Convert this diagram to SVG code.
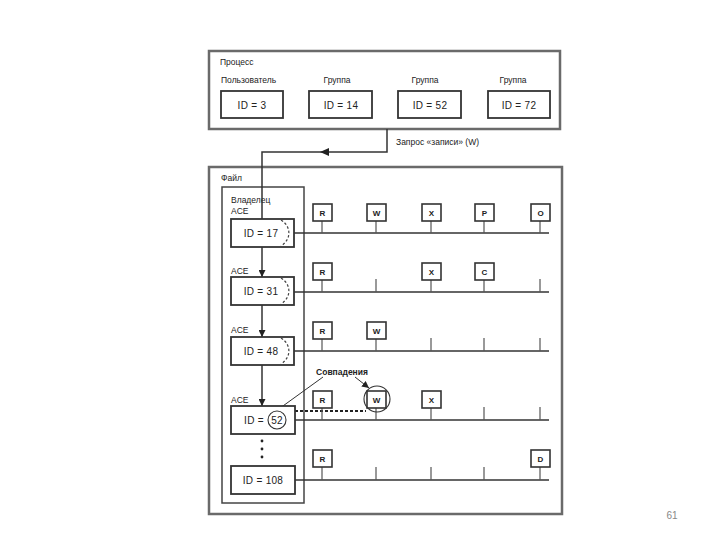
<svg xmlns="http://www.w3.org/2000/svg" width="720" height="540" viewBox="0 0 720 540">
<defs>
<style>
text{font-family:"Liberation Sans",Arial,sans-serif;fill:#222;}
.lbl{font-size:8.5px;}
.id{font-size:10px;text-anchor:middle;letter-spacing:0.3px;}
.frame{fill:none;stroke:#6a6a6a;stroke-width:2.5;}
.panel{fill:none;stroke:#444;stroke-width:1.5;}
.box{fill:#fff;stroke:#333;stroke-width:1.8;}
.lbox{fill:#fff;stroke:#333;stroke-width:1.6;}
.ln{stroke:#333;stroke-width:1.5;fill:none;}
.tick{stroke:#555;stroke-width:1.2;}
.dash{stroke:#444;stroke-width:1.2;fill:none;stroke-dasharray:2.5,2;}
.mdash{stroke:#222;stroke-width:1.8;fill:none;stroke-dasharray:3,2;}
.let{font-size:8px;text-anchor:middle;font-weight:bold;}
</style>
<marker id="ah" viewBox="0 0 10 10" refX="10" refY="5" markerWidth="7" markerHeight="7" orient="auto" markerUnits="userSpaceOnUse">
<path d="M0,0 L10,5 L0,10 z" fill="#222"/>
</marker>
</defs>
<rect width="720" height="540" fill="#fff"/>

<g id="process">
<rect class="frame" x="209" y="51" width="351" height="78"/>
<text class="lbl" x="220" y="65">Процесс</text>
<text class="lbl" x="221" y="83">Пользователь</text>
<text class="lbl" x="337" y="83" text-anchor="middle">Группа</text>
<text class="lbl" x="425" y="83" text-anchor="middle">Группа</text>
<text class="lbl" x="513" y="83" text-anchor="middle">Группа</text>
<g id="p-id3"><rect class="box" x="221" y="91" width="62" height="27"/><text class="id" x="252" y="108.5">ID = 3</text></g>
<g id="p-id14"><rect class="box" x="309" y="91" width="63" height="27"/><text class="id" x="341" y="108.5">ID = 14</text></g>
<g id="p-id52"><rect class="box" x="398" y="91" width="63" height="27"/><text class="id" x="430" y="108.5">ID = 52</text></g>
<g id="p-id72"><rect class="box" x="488" y="91" width="62" height="27"/><text class="id" x="519" y="108.5">ID = 72</text></g>
</g>

<g id="file">
<rect class="frame" x="209" y="167" width="353" height="347"/>
<text class="lbl" x="221" y="181">Файл</text>
<rect class="panel" x="222" y="187" width="82" height="316"/>
<text class="lbl" x="231" y="203">Владелец</text>
<text class="lbl" x="231" y="214">ACE</text>
<text class="lbl" x="231" y="274">ACE</text>
<text class="lbl" x="231" y="333">ACE</text>
<text class="lbl" x="231" y="403">ACE</text>
</g>

<g id="connectors">
<polyline class="ln" points="387,129 387,152 262,152 262,219"/>
<path d="M320,152 L329,148 L329,156 z" fill="#222"/>
<text class="lbl" x="396" y="145">Запрос «записи» (W)</text>
<line class="ln" x1="262" y1="247" x2="262" y2="277" marker-end="url(#ah)"/>
<line class="ln" x1="262" y1="305" x2="262" y2="337" marker-end="url(#ah)"/>
<line class="ln" x1="262" y1="365" x2="262" y2="406" marker-end="url(#ah)"/>
<circle cx="262" cy="441" r="1.4" fill="#222"/>
<circle cx="262" cy="449" r="1.4" fill="#222"/>
<circle cx="262" cy="457" r="1.4" fill="#222"/>
<line class="ln" x1="294" y1="233" x2="549" y2="233"/>
<line class="ln" x1="294" y1="292" x2="549" y2="292"/>
<line class="ln" x1="294" y1="351" x2="549" y2="351"/>
<line class="ln" x1="295" y1="420" x2="549" y2="420"/>
<line class="ln" x1="295" y1="480" x2="549" y2="480"/>
<line class="mdash" x1="270" y1="411" x2="366" y2="411"/>
<line x1="323" y1="377" x2="276" y2="411" stroke="#333" stroke-width="1"/>
<line x1="355" y1="377" x2="369" y2="388" stroke="#333" stroke-width="1" marker-end="url(#ah)"/>
<text x="342" y="375" font-size="8.5" font-weight="bold" text-anchor="middle">Совпадения</text>
</g>

<g id="ace17"><rect class="box" x="231" y="219" width="63" height="28"/><text class="id" x="261" y="236.5">ID = 17</text><path class="dash" d="M281,220 C291,226 292,239 281,246"/></g>
<g id="ace31"><rect class="box" x="231" y="277" width="63" height="28"/><text class="id" x="261" y="294.5">ID = 31</text><path class="dash" d="M281,278 C291,284 292,297 281,304"/></g>
<g id="ace48"><rect class="box" x="231" y="337" width="63" height="28"/><text class="id" x="261" y="354.5">ID = 48</text><path class="dash" d="M281,338 C291,344 292,357 281,364"/></g>
<g id="ace52"><rect class="box" x="231" y="406" width="64" height="28"/><text class="id" x="254" y="423.5">ID =</text><text class="id" x="277" y="423.5">52</text><circle cx="277" cy="420" r="9" fill="none" stroke="#333" stroke-width="1.1"/></g>
<g id="ace108"><rect class="box" x="231" y="466" width="64" height="28"/><text class="id" x="263" y="483.5">ID = 108</text></g>

<g id="row1">
<line class="tick" x1="322" y1="221" x2="322" y2="233"/><rect class="lbox" x="313" y="204" width="19" height="17"/><text class="let" x="322.5" y="216">R</text>
<line class="tick" x1="376" y1="221" x2="376" y2="233"/><rect class="lbox" x="367" y="204" width="19" height="17"/><text class="let" x="376.5" y="216">W</text>
<line class="tick" x1="431" y1="221" x2="431" y2="233"/><rect class="lbox" x="422" y="204" width="19" height="17"/><text class="let" x="431.5" y="216">X</text>
<line class="tick" x1="484" y1="221" x2="484" y2="233"/><rect class="lbox" x="475" y="204" width="19" height="17"/><text class="let" x="484.5" y="216">P</text>
<line class="tick" x1="540" y1="221" x2="540" y2="233"/><rect class="lbox" x="531" y="204" width="19" height="17"/><text class="let" x="540.5" y="216">O</text>
</g>
<g id="row2">
<line class="tick" x1="322" y1="280" x2="322" y2="292"/><rect class="lbox" x="313" y="263" width="19" height="17"/><text class="let" x="322.5" y="275">R</text>
<line class="tick" x1="376" y1="279" x2="376" y2="292"/>
<line class="tick" x1="431" y1="280" x2="431" y2="292"/><rect class="lbox" x="422" y="263" width="19" height="17"/><text class="let" x="431.5" y="275">X</text>
<line class="tick" x1="484" y1="280" x2="484" y2="292"/><rect class="lbox" x="475" y="263" width="19" height="17"/><text class="let" x="484.5" y="275">C</text>
<line class="tick" x1="540" y1="279" x2="540" y2="292"/>
</g>
<g id="row3">
<line class="tick" x1="322" y1="339" x2="322" y2="351"/><rect class="lbox" x="313" y="322" width="19" height="17"/><text class="let" x="322.5" y="334">R</text>
<line class="tick" x1="376" y1="339" x2="376" y2="351"/><rect class="lbox" x="367" y="322" width="19" height="17"/><text class="let" x="376.5" y="334">W</text>
<line class="tick" x1="431" y1="338" x2="431" y2="351"/>
<line class="tick" x1="484" y1="338" x2="484" y2="351"/>
<line class="tick" x1="540" y1="338" x2="540" y2="351"/>
</g>
<g id="row4">
<line class="tick" x1="322" y1="408" x2="322" y2="420"/><rect class="lbox" x="313" y="391" width="19" height="17"/><text class="let" x="322.5" y="403">R</text>
<line class="tick" x1="376" y1="408" x2="376" y2="420"/><rect class="lbox" x="367" y="391" width="19" height="17"/><text class="let" x="376.5" y="403">W</text>
<circle cx="377" cy="399" r="13" fill="none" stroke="#333" stroke-width="1.1"/>
<line class="tick" x1="431" y1="408" x2="431" y2="420"/><rect class="lbox" x="422" y="391" width="19" height="17"/><text class="let" x="431.5" y="403">X</text>
<line class="tick" x1="484" y1="407" x2="484" y2="420"/>
<line class="tick" x1="540" y1="407" x2="540" y2="420"/>
</g>
<g id="row5">
<line class="tick" x1="322" y1="467" x2="322" y2="480"/><rect class="lbox" x="313" y="450" width="19" height="17"/><text class="let" x="322.5" y="462">R</text>
<line class="tick" x1="376" y1="467" x2="376" y2="480"/>
<line class="tick" x1="431" y1="467" x2="431" y2="480"/>
<line class="tick" x1="484" y1="467" x2="484" y2="480"/>
<line class="tick" x1="540" y1="467" x2="540" y2="480"/><rect class="lbox" x="531" y="450" width="19" height="17"/><text class="let" x="540.5" y="462">D</text>
</g>

<text x="672" y="519" font-size="10" text-anchor="middle" style="fill:#888">61</text>
</svg>
